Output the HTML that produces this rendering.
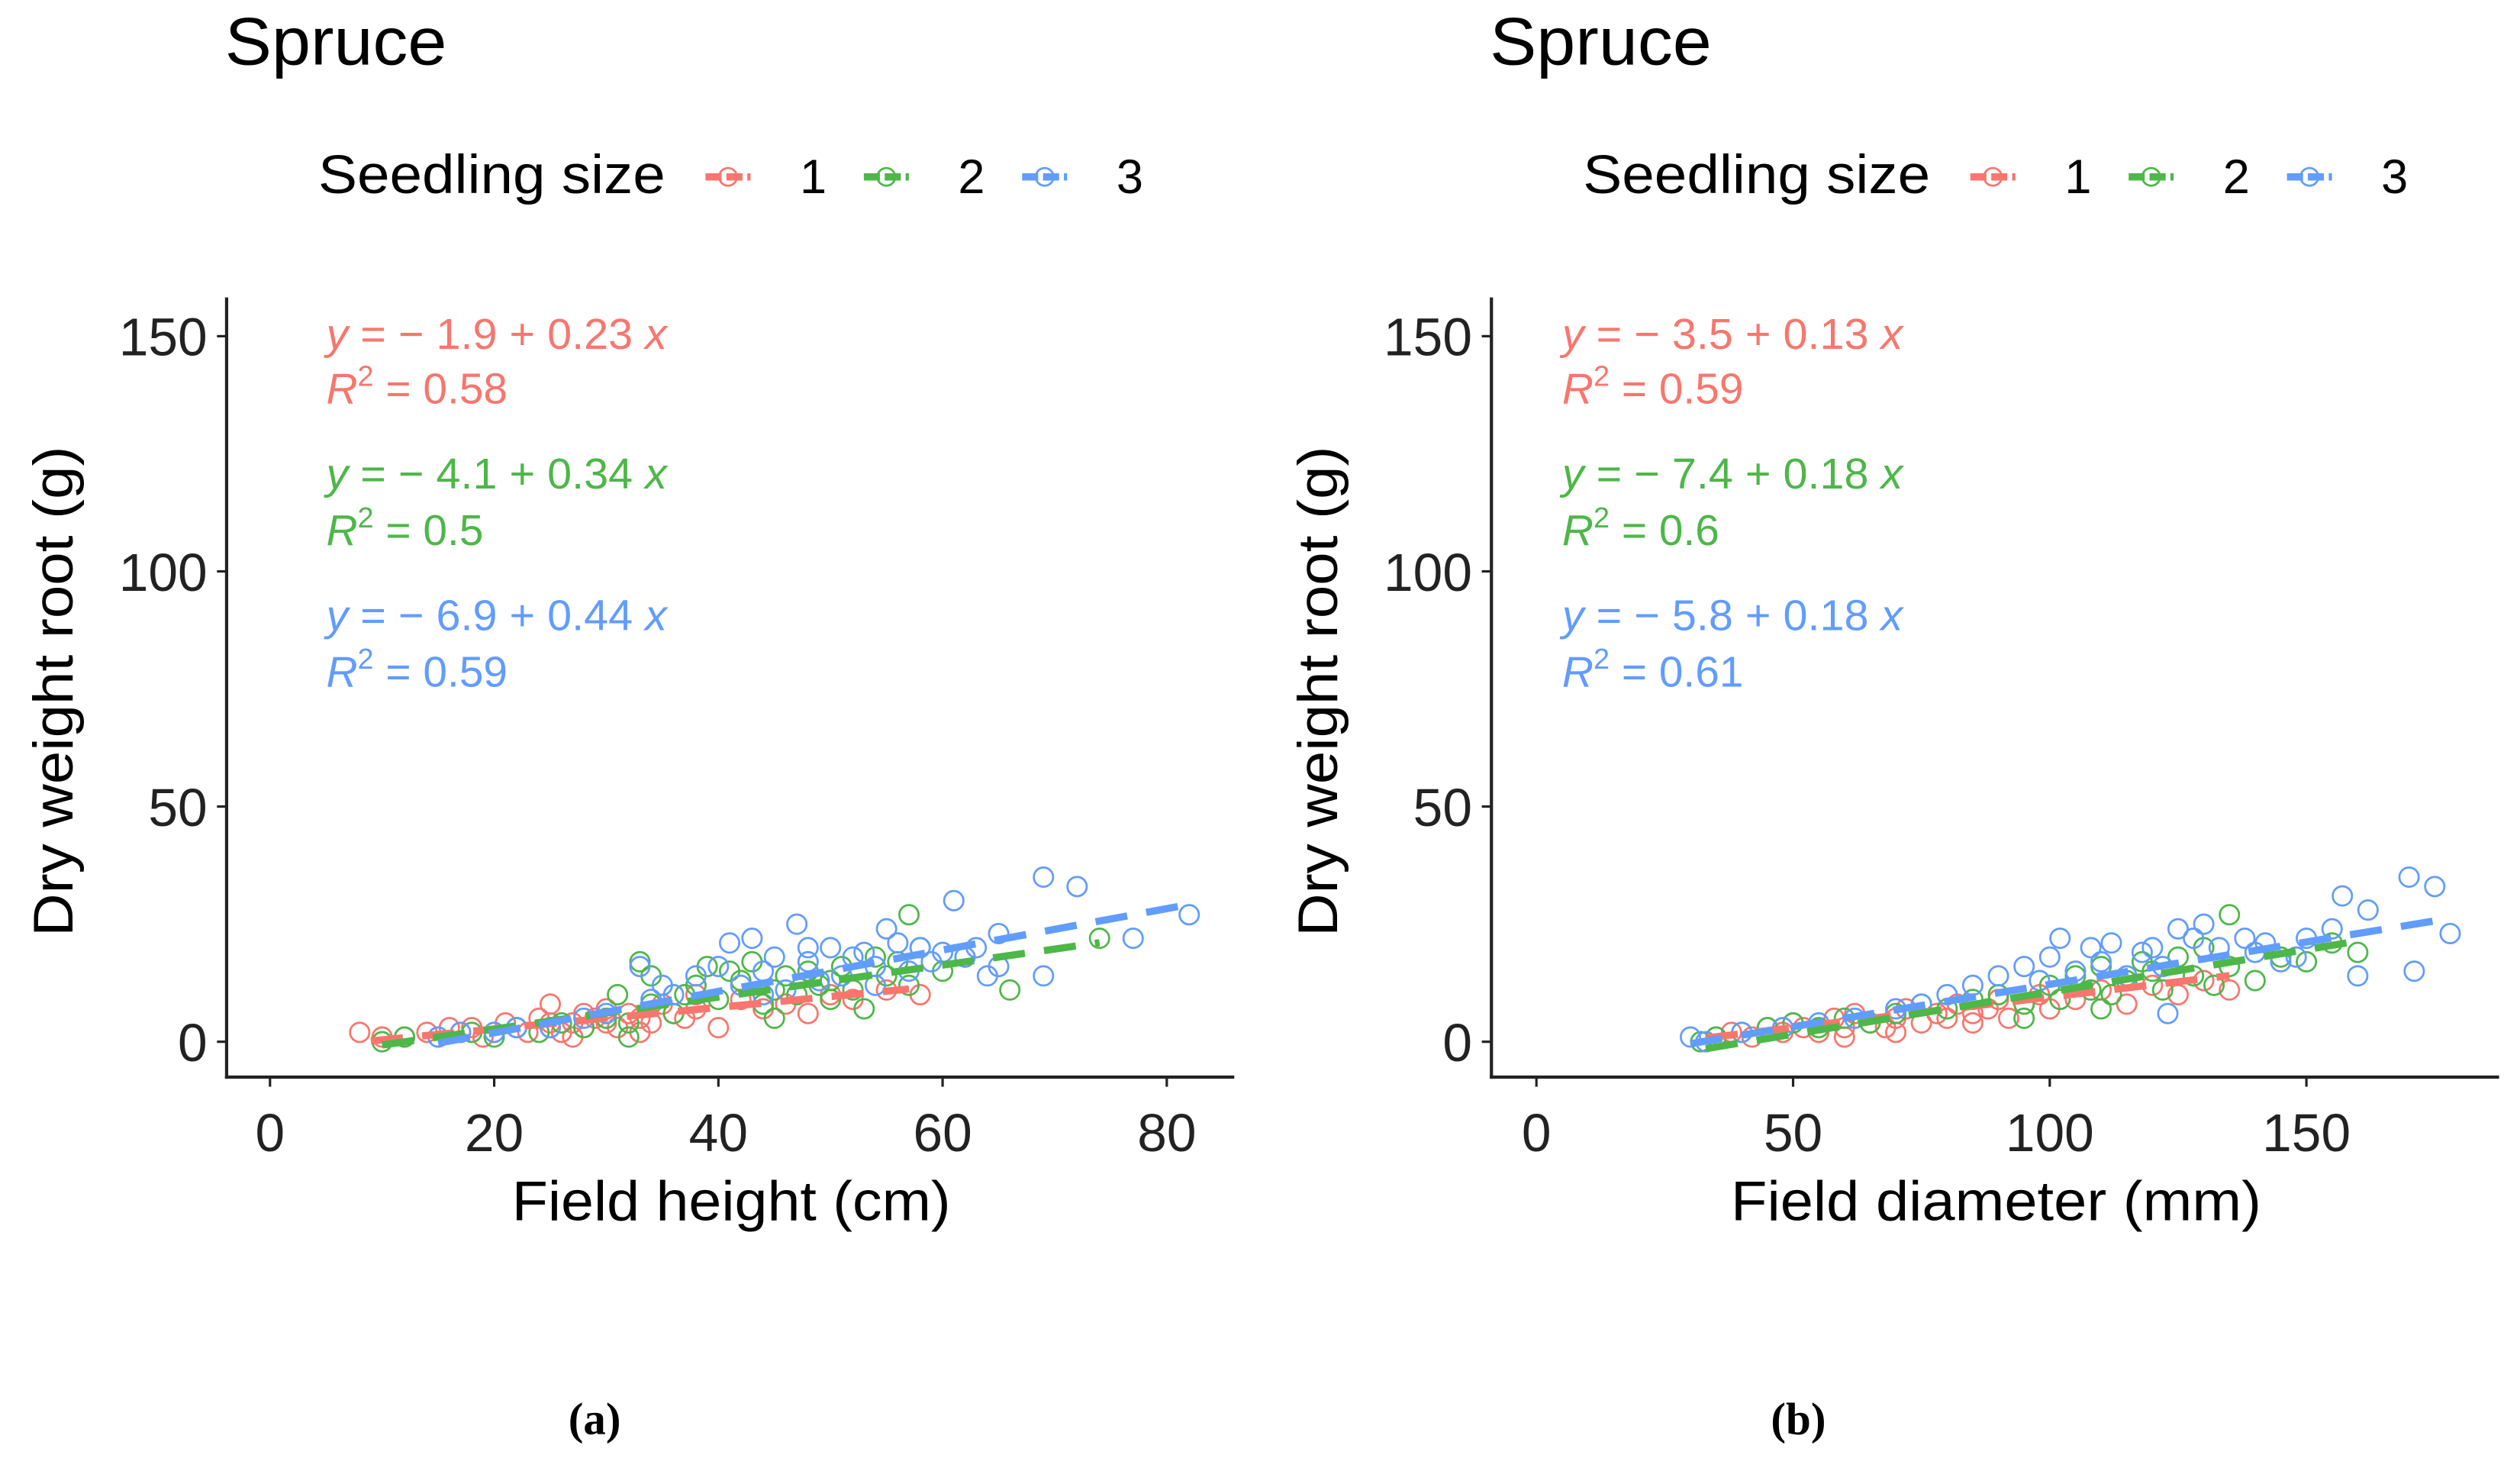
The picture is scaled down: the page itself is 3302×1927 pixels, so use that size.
<!DOCTYPE html>
<html><head><meta charset="utf-8"><style>
html,body{margin:0;padding:0;background:#fff;}
svg{display:block;font-family:"Liberation Sans",sans-serif;}
</style></head><body>
<svg id="fig" width="3302" height="1927" viewBox="0 0 1568 915" xmlns="http://www.w3.org/2000/svg"></svg>
<script>
// ---- data: panel (a) Field height (cm) vs dry weight root (g)
const hx1=[8,10,12,14,16,17,18,19,20,21,22,23,24,25,25,26,27,28,28,29,30,30,31,32,33,34,35,36,37,38,40,42,44,46,48,50,52,55,58,25,33,38,27];
const hy1=[2,1,1,2,3,2,3,1,2,4,3,2,5,8,3,2,4,6,3,5,4,7,3,6,5,4,8,6,5,7,3,9,7,8,6,10,9,11,10,4,2,10,1];
const hx2=[10,12,15,18,20,22,24,26,28,30,31,32,33,34,34,36,37,38,39,40,41,42,43,44,45,46,47,48,49,50,51,52,53,54,55,56,57,57,58,60,62,66,74,32,45,50];
const hy2=[0,1,1,2,1,3,2,4,3,5,10,4,17,8,14,6,10,12,16,9,15,13,17,8,11,14,10,15,12,13,16,11,7,18,14,17,27,12,20,15,18,11,22,1,5,9];
const hx3=[15,17,20,22,25,28,30,33,34,35,36,38,40,41,42,43,44,45,46,47,48,49,50,51,52,53,54,55,56,57,58,59,60,61,62,63,64,65,65,69,69,72,77,82,44,48,54];
const hy3=[1,2,2,3,3,5,6,16,9,12,10,14,16,21,12,22,15,18,11,25,17,13,20,14,18,19,16,24,21,15,20,17,19,30,18,20,14,23,16,35,14,33,22,27,10,20,12];
// ---- data: panel (b) Field diameter (mm)
const dx1=[35,38,42,45,48,50,52,55,58,60,62,65,68,70,72,75,78,80,82,85,88,90,92,95,98,100,105,110,115,120,125,130,135,60,70,85];
const dy1=[1,2,1,3,2,4,3,2,5,3,6,4,3,5,7,4,6,5,8,6,7,9,5,8,10,7,9,11,8,12,10,13,11,1,2,4];
const dx2=[32,35,40,45,50,55,60,65,70,75,80,85,90,95,100,102,105,108,110,112,115,118,120,122,125,128,130,132,135,135,140,145,150,155,160,95,110];
const dy2=[0,1,2,3,4,3,5,4,6,8,7,9,10,8,12,9,14,11,16,10,13,17,15,11,18,14,20,12,27,16,13,18,17,21,19,5,7];
const dx3=[30,33,40,48,55,62,70,75,80,85,90,95,98,100,102,105,108,110,112,115,118,120,122,125,128,130,133,138,142,145,148,155,157,160,162,170,171,175,178,123,140,150];
const dy3=[1,0,2,3,4,5,7,8,10,12,14,16,13,18,22,15,20,17,21,14,19,20,16,24,22,25,20,22,21,17,18,24,31,14,28,35,15,33,23,6,19,22];
// regression fits
const hInt=[-1.9,-4.1,-6.9], hSlope=[0.23,0.34,0.44], hR2=["0.58","0.5","0.59"], hRange=[[9,57],[10,74],[15,82]];
const dInt=[-3.5,-7.4,-5.8], dSlope=[0.13,0.18,0.18], dR2=["0.59","0.6","0.61"], dRange=[[33,135],[33,160],[30,178]];
const xTicksA=[0,20,40,60,80], xTicksB=[0,50,100,150], yTicks=[0,50,100,150];
const groups=["1","2","3"];
const colors=["#F8766D","#4DB748","#619CFF"];

const NS="http://www.w3.org/2000/svg";
const svg=document.getElementById('fig');
function el(tag,attrs,parent,text){const e=document.createElementNS(NS,tag);for(const k in attrs)e.setAttribute(k,attrs[k]);if(text!==undefined)e.textContent=text;(parent||svg).appendChild(e);return e;}
const LA='spacingAndGlyphs';

function panel(off,xs,ys,ints,slopes,r2s,ranges,xTicks,xPx0,xPxPerUnit,xTitle,xTitleLen,tag,eqX,capX){
  const g=el('g',{});
  
  
  const X=v=>off+xPx0+v*xPxPerUnit;
  const Y=v=>648-v*(146.3/50);
  const axL=off+141, axR=off+768;
  const t=el('text',{x:off+140,y:40,'font-size':42,fill:'#000',textLength:138,lengthAdjust:LA},g,'Spruce');
  
  
  const lt=el('text',{x:off+198,y:120,'font-size':34,fill:'#000',textLength:216,lengthAdjust:LA},g,'Seedling size');
  
  
  groups.forEach((gname,i)=>{
    const kx=off+453+i*98.5;
    const lg=el('g',{},g);
    
    
    el('line',{x1:kx-14,y1:110,x2:kx+14,y2:110,stroke:colors[i],'stroke-width':4.5,'stroke-dasharray':'10 3'},lg);
    el('circle',{cx:kx,cy:110,r:5.5,fill:'none',stroke:colors[i],'stroke-width':1.3},lg);
    el('text',{x:kx+53,y:120,'font-size':30,'text-anchor':'middle',fill:'#000'},lg,gname);
  });
  // axes
  const ya=el('line',{x1:axL,y1:185,x2:axL,y2:671,stroke:'#222','stroke-width':2},g);
  
  
  const xa=el('line',{x1:axL-1,y1:670,x2:axR,y2:670,stroke:'#222','stroke-width':2},g);
  
  
  yTicks.forEach(v=>{
    el('line',{x1:axL-6,y1:Y(v),x2:axL,y2:Y(v),stroke:'#222','stroke-width':1.5},g);
    const tl=el('text',{x:axL-12,y:Y(v)+12,'font-size':33,'text-anchor':'end',fill:'#222'},g,String(v));
    
    
  });
  xTicks.forEach(v=>{
    el('line',{x1:X(v),y1:670,x2:X(v),y2:676,stroke:'#222','stroke-width':1.5},g);
    const tl=el('text',{x:X(v),y:716,'font-size':33,'text-anchor':'middle',fill:'#222'},g,String(v));
    
    
  });
  const yt=el('text',{x:0,y:0,'font-size':35,'text-anchor':'middle',fill:'#000',textLength:305,lengthAdjust:LA,transform:`translate(${off+45},430) rotate(-90)`},g,'Dry weight root (g)');
  
  
  const xt=el('text',{x:off+455,y:759,'font-size':35,'text-anchor':'middle',fill:'#000',textLength:xTitleLen,lengthAdjust:LA},g,xTitle);
  
  
  // points
  for(let i=0;i<3;i++){
    const pg=el('g',{},g);
    
    
    xs[i].forEach((xv,j)=>{
      const c=el('circle',{cx:X(xv),cy:Y(ys[i][j]),r:6,fill:'none',stroke:colors[i],'stroke-width':1.3},pg);
      
      
    });
  }
  // regression lines
  for(let i=0;i<3;i++){
    const [a,b]=ranges[i];
    const ln=el('line',{x1:X(a),y1:Y(ints[i]+slopes[i]*a),x2:X(b),y2:Y(ints[i]+slopes[i]*b),stroke:colors[i],'stroke-width':4.5,'stroke-dasharray':'20 12'},g);
    
    
  }
  // equations
  const eqY=[[217,251],[304,339],[392,427]];
  for(let i=0;i<3;i++){
    const sgn=ints[i]<0?'\u2212 ':'';
    const e1=el('text',{x:eqX,y:eqY[i][0],'font-size':27,fill:colors[i],textLength:212,lengthAdjust:LA},g);
    
    
    el('tspan',{'font-style':'italic'},e1,'y');
    el('tspan',{},e1,' = '+sgn+Math.abs(ints[i]).toFixed(1)+' + '+slopes[i].toFixed(2)+' ');
    el('tspan',{'font-style':'italic'},e1,'x');
    const e2=el('text',{x:eqX,y:eqY[i][1],'font-size':27,fill:colors[i]},g);
    
    
    el('tspan',{'font-style':'italic'},e2,'R');
    el('tspan',{dy:-11,'font-size':18},e2,'2');
    el('tspan',{dy:11},e2,' = '+r2s[i]);
  }
  const cap=el('text',{x:capX,y:892,'font-size':28,'font-weight':'bold','text-anchor':'middle','font-family':'Liberation Serif, serif',fill:'#000'},g,'('+tag+')');
  
  
}
panel(0,[hx1,hx2,hx3],[hy1,hy2,hy3],hInt,hSlope,hR2,hRange,xTicksA,168,139.5/20,'Field height (cm)',273,'a',203,370);
panel(787,[dx1,dx2,dx3],[dy1,dy2,dy3],dInt,dSlope,dR2,dRange,xTicksB,169,159.7/50,'Field diameter (mm)',330,'b',972,1119);
</script>
</body></html>
